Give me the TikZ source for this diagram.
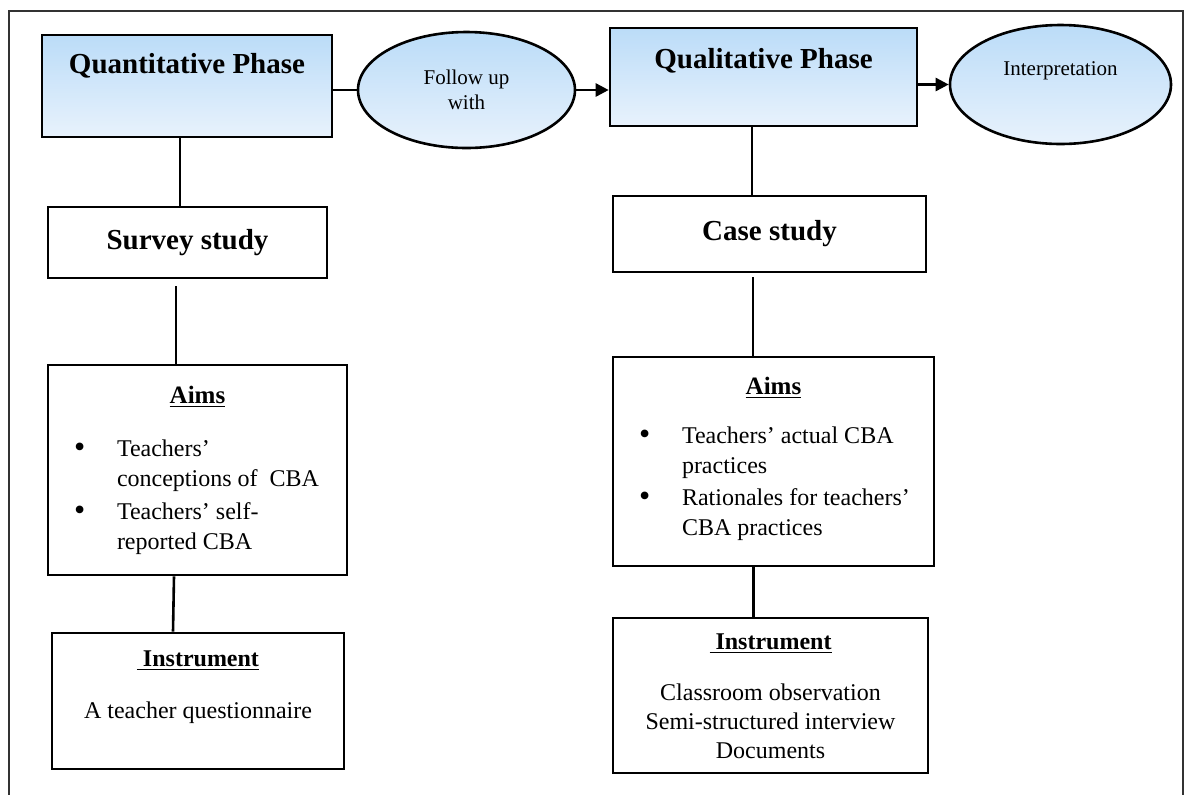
\documentclass[tikz,border=0pt]{standalone}
\usepackage{fontspec}
\setmainfont{Liberation Serif}
\usepackage{tikz}
\usetikzlibrary{arrows.meta,shapes.geometric}

\definecolor{phasetop}{RGB}{187,220,248}
\definecolor{phasebot}{RGB}{232,242,252}

\newcommand\aimitem[1]{\hspace*{13pt}\makebox[21.5pt][l]{\raisebox{-0.6pt}{\fontsize{16}{15}\selectfont\textbullet}}#1}
\newcommand\aimcont[1]{\hspace*{34.5pt}#1}

\begin{document}
\begin{tikzpicture}[x=0.5pt,y=-0.5pt,>={Triangle[length=6.5pt,width=6.5pt]},line width=1.3pt,
    phase node/.style={rectangle,draw,top color=phasetop,bottom color=phasebot,inner sep=0pt,
                       font=\fontsize{14.5}{17}\selectfont\bfseries,text height=10pt},
    oval node/.style={ellipse,draw,top color=phasetop,bottom color=phasebot,inner sep=0pt,
                      align=center,font=\fontsize{10.5}{12.5}\selectfont},
    study node/.style={rectangle,draw,fill=white,inner sep=0pt,font=\fontsize{14.5}{17}\selectfont\bfseries},
    info node/.style={rectangle,draw,fill=white,inner sep=0pt,font=\fontsize{12}{15}\selectfont}]
\useasboundingbox (0,0) rectangle (1184,794);
\draw[black!80,line width=1.1pt] (9,800) -- (9,11) -- (1183,11) -- (1183,800);

\node[phase node,minimum width=145pt,minimum height=51pt,text depth=23pt] (quant) at (187,86) {Quantitative Phase};
\node[oval node,minimum width=108.5pt,minimum height=58pt] (follow) at (466.5,90) {Follow up\\with};
\node[phase node,minimum width=153.5pt,minimum height=49pt,text depth=19pt] (qual) at (763.5,77) {Qualitative Phase};
\node[oval node,minimum width=110.5pt,minimum height=59.5pt,text height=7pt,text depth=16.5pt] (interp) at (1060.5,84.5) {Interpretation};

\node[study node,minimum width=139.5pt,minimum height=35.5pt] (survey) at (187.5,242.5) {Survey study};
\node[study node,minimum width=156.5pt,minimum height=38pt] (case) at (769.5,234) {Case study};

\node[info node] (aimsL) at (197.5,470) {\parbox[c][105pt][t]{149.5pt}{\vspace*{10.5pt}\centering
  {\fontsize{12.5}{15}\selectfont\textbf{\underline{Aims}}}\par\vspace{11.5pt}\raggedright
  \aimitem{Teachers’}\\ \aimcont{conceptions of\ \ CBA}\\[1.5pt]
  \aimitem{Teachers’ self-}\\ \aimcont{reported CBA}}};
\node[info node] (instL) at (198,701) {\parbox[c][68pt][t]{146pt}{\vspace*{9pt}\centering
  \textbf{\underline{\ Instrument}}\par\vspace{11pt}A teacher questionnaire}};

\node[info node] (aimsR) at (773.5,461.5) {\parbox[c][104.5pt][t]{160.5pt}{\vspace*{10pt}\centering
  {\fontsize{12.5}{15}\selectfont\textbf{\underline{Aims}}}\par\vspace{9.5pt}\raggedright
  \aimitem{Teachers’ actual CBA}\\ \aimcont{practices}\\[1pt]
  \aimitem{Rationales for teachers’}\\ \aimcont{CBA practices}}};
\node[info node] (instR) at (770.5,695.5) {\parbox[c][77.5pt][t]{157.5pt}{\vspace*{8pt}\centering
  \textbf{\underline{\ Instrument}}\par\vspace{11pt}\fontsize{12}{14.5}\selectfont
  Classroom observation\\Semi-structured interview\\Documents}};

\path
  ([xshift=-3.5pt]quant.south) edge ([xshift=-3.75pt]survey.north)
  ([xshift=-5.75pt]survey.south) edge[shorten <=3.5pt] ([xshift=-10.75pt]aimsL.north)
  ([xshift=-11.75pt]aimsL.south) edge ([xshift=-12.5pt]instL.north)
  (quant.east |- follow.west) edge (follow.west)
  (follow.east) edge[->] (follow.east -| qual.west)
  (qual.east |- interp.west) edge[->] (interp.west)
  ([xshift=-5.75pt]qual.south) edge ([xshift=-8.75pt]case.north)
  ([xshift=-8.25pt]case.south) edge[shorten <=2pt] ([xshift=-10.25pt]aimsR.north)
  ([xshift=-10pt]aimsR.south) edge ([xshift=-8.5pt]instR.north);
\end{tikzpicture}
\end{document}
